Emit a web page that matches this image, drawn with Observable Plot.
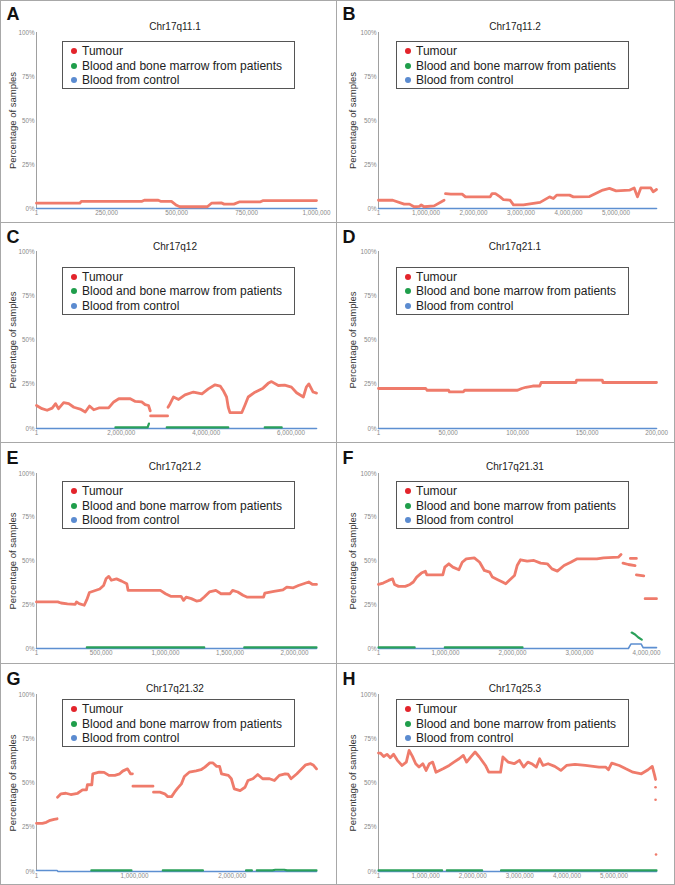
<!DOCTYPE html>
<html>
<head>
<meta charset="utf-8">
<script src="https://cdn.jsdelivr.net/npm/d3@7"></script>
<script src="https://cdn.jsdelivr.net/npm/@observablehq/plot@0.6"></script>
<style>
  body { margin: 0; background: #fff; font-family: "Liberation Sans", Arial, sans-serif; }
  #fig { position: relative; width: 675px; height: 885px; overflow: hidden; background: #fff; }
  .panel { position: absolute; }
  .panel svg { position: absolute; left: 0; top: 0; }
  .letter { position: absolute; font-weight: bold; font-size: 18px; line-height: 18px; color: #111; }
  .title { position: absolute; font-size: 10px; line-height: 12px; color: #222; transform: translate(-50%, -50%); white-space: nowrap; }
  .legend { position: absolute; border: 1px solid #555; background: #fff; box-sizing: border-box; width: 233px; height: 48px; font-size: 12px; color: #222; }
  .legend .row { position: absolute; left: 19px; white-space: nowrap; line-height: 14px; }
  .legend .dot { position: absolute; left: -11px; top: 4px; width: 6px; height: 6px; border-radius: 50%; }
  .gl { position: absolute; background: #a8a8a8; }
</style>
</head>
<body>
<div id="fig"></div>
<script>
// ---------- data (x in bp, y in % of samples; null = gap) ----------
const titles = ["Chr17q11.1","Chr17q11.2","Chr17q12","Chr17q21.1","Chr17q21.2","Chr17q21.31","Chr17q21.32","Chr17q25.3"];
const letters = ["A","B","C","D","E","F","G","H"];
const seriesNames = ["Tumour","Blood and bone marrow from patients","Blood from control"];
const yTicks = [0, 25, 50, 75, 100];

const xTicksA = [1, 250000, 500000, 750000, 1000000];
const xTicksB = [1, 1000000, 2000000, 3000000, 4000000, 5000000];
const xTicksC = [1, 2000000, 4000000, 6000000];
const xTicksD = [1, 50000, 100000, 150000, 200000];
const xTicksE = [1, 500000, 1000000, 1500000, 2000000];
const xTicksF = [1, 1000000, 2000000, 3000000, 4000000];
const xTicksG = [1, 1000000, 2000000];
const xTicksH = [1, 1000000, 2000000, 3000000, 4000000, 5000000];

const xMax = [1000000, 5850000, 6600000, 200000, 2170000, 4150000, 2860000, 5900000];

const tumourA = [[0,3],[155000,3],[160000,4],[375000,4],[385000,4.7],[435000,4.7],[445000,4],[482000,4],[500000,1.8],[512000,1],[610000,1],[625000,3],[660000,3.2],[670000,2.5],[705000,2.5],[726000,3.8],[800000,3.8],[810000,4.5],[1000000,4.5]];
const tumourB = [[0,4.7],[300000,4.7],[540000,2.5],[650000,2.5],[750000,1],[860000,1.2],[900000,2],[960000,1],[1170000,1.5],[1380000,4.7],[1390000,null],[1410000,8.5],[1520000,8.2],[1760000,8.2],[1830000,6.6],[2350000,6.6],[2390000,8.5],[2460000,8.5],[2560000,6.6],[2630000,5],[2770000,4.7],[2840000,2.1],[3050000,2.1],[3400000,3.5],[3600000,6.6],[3680000,5.7],[3750000,7.6],[4020000,7.6],[4100000,6.6],[4440000,6.8],[4720000,10.5],[4860000,11.4],[5000000,10],[5280000,10.4],[5380000,11.7],[5450000,6.6],[5520000,11.7],[5730000,11.7],[5780000,9.5],[5850000,10.8]];
const tumourC = [[0,13],[130000,11.2],[250000,10.3],[370000,11.5],[450000,14],[520000,11.2],[640000,14.6],[760000,14],[880000,12],[1030000,11],[1150000,9.3],[1250000,12.7],[1350000,10.6],[1470000,11.6],[1700000,11.6],[1820000,15],[1940000,16.8],[2210000,16.8],[2330000,15.3],[2480000,15],[2560000,13.5],[2640000,13],[2680000,10],[2685000,null],[2690000,7.1],[3090000,7.1],[3095000,null],[3100000,12],[3150000,14],[3230000,17.8],[3350000,16.4],[3500000,19],[3700000,20.6],[3900000,19.6],[4050000,22.4],[4210000,24.7],[4330000,24],[4400000,21.5],[4480000,17.8],[4520000,12],[4560000,9],[4840000,9],[4910000,13],[4990000,17.8],[5150000,20.5],[5340000,22.8],[5460000,25.5],[5540000,26.5],[5700000,24.3],[5850000,24.5],[6010000,23.4],[6130000,20.2],[6290000,17.8],[6360000,23.4],[6420000,25.2],[6520000,20.6],[6600000,20]];
const tumourD = [[0,22.6],[34000,22.6],[35000,21.6],[50500,21.6],[51000,20.7],[61000,20.7],[62000,21.6],[100000,21.6],[103000,22.6],[106000,23.3],[111000,24],[116000,24],[117000,26],[142000,26],[142500,27.3],[161000,27.3],[161500,26],[200000,26]];
const tumourE = [[0,26.6],[165000,26.6],[190000,26],[240000,25.5],[300000,25.2],[310000,26.6],[330000,25.6],[370000,24.7],[390000,27.9],[410000,32],[450000,33],[490000,34],[520000,36],[540000,40],[560000,41.2],[580000,39],[620000,39.8],[660000,38.5],[700000,37],[710000,33.2],[960000,33.2],[1000000,31.3],[1040000,29.8],[1120000,29.8],[1140000,27.5],[1160000,29.4],[1200000,28.5],[1240000,27.1],[1270000,27.5],[1300000,29.4],[1340000,32.3],[1390000,33.2],[1430000,31.3],[1500000,31.3],[1520000,33.2],[1560000,32.3],[1600000,30.4],[1630000,29.4],[1760000,29.4],[1770000,31.7],[1840000,32.6],[1910000,33.5],[1940000,35.1],[1990000,34.7],[2030000,36],[2070000,37],[2110000,38],[2140000,36.6],[2170000,36.6]];
const tumourF = [[0,36.6],[70000,37.4],[150000,38.9],[210000,39.8],[240000,36.6],[300000,35.5],[400000,35.5],[470000,36.6],[520000,38],[570000,40.8],[640000,43.1],[700000,44.2],[720000,42.1],[960000,42.1],[990000,46.5],[1050000,48.4],[1110000,46.5],[1200000,45],[1250000,49.3],[1310000,51.2],[1430000,51.8],[1510000,49.3],[1580000,44.6],[1660000,43.6],[1700000,40.8],[1780000,39.3],[1850000,38],[1900000,37],[1950000,38.9],[2030000,41.7],[2070000,47.4],[2120000,50.7],[2220000,49.9],[2320000,50.3],[2420000,48.8],[2520000,48.4],[2590000,45.5],[2670000,44.2],[2770000,47.4],[2870000,49.3],[2960000,51.2],[3260000,51.2],[3360000,51.8],[3580000,52.2],[3620000,53.7],[3630000,null],[3650000,48.8],[3730000,48],[3830000,47.4],[3840000,null],[3850000,42.1],[3960000,41.5],[3970000,null],[3980000,28.5],[4150000,28.5],[4150001,null],[3760000,51.5],[3850000,51.5]];
const tumourG = [[0,27.2],[60000,27.2],[100000,27.8],[130000,28.7],[180000,29.5],[210000,29.8],[212000,null],[215000,42],[250000,43.9],[300000,44.2],[350000,43.5],[420000,44.2],[470000,46.1],[510000,46.1],[520000,49],[565000,49],[575000,55.2],[640000,56.1],[690000,56],[740000,54.3],[800000,54.3],[850000,55.2],[880000,56.7],[930000,58],[960000,55.2],[980000,55.2],[982000,null],[985000,48.2],[1190000,48.2],[1191000,null],[1195000,44.8],[1260000,44.8],[1310000,43.9],[1340000,42.3],[1380000,42.3],[1410000,44.8],[1440000,47],[1480000,49.5],[1510000,53.7],[1560000,56.1],[1630000,56.8],[1680000,57.5],[1720000,59],[1770000,61.4],[1800000,61.4],[1840000,59.4],[1870000,59.4],[1890000,55.2],[1960000,54.3],[1990000,52.4],[2020000,46.7],[2080000,45.7],[2130000,47.6],[2160000,51.4],[2210000,52.4],[2260000,54.8],[2310000,52.4],[2380000,52.4],[2430000,51.4],[2480000,54.3],[2540000,55.2],[2570000,55],[2600000,52.4],[2660000,55.2],[2710000,58],[2750000,60.3],[2800000,60.9],[2830000,60],[2860000,58]];
const tumourH = [[0,66.9],[40000,66.9],[110000,65],[180000,66.2],[250000,64.3],[320000,66.2],[400000,62.8],[500000,59.9],[590000,61.8],[650000,68.4],[720000,65],[790000,60.9],[860000,59],[940000,60.9],[1010000,57.1],[1080000,60.9],[1150000,61.8],[1220000,56.1],[1370000,58],[1500000,59.9],[1600000,61.8],[1710000,63.7],[1800000,65.6],[1870000,61.8],[1960000,64.7],[2050000,67.5],[2140000,64.7],[2270000,59.9],[2340000,56.1],[2590000,56.1],[2640000,64.7],[2750000,61.8],[2880000,60.9],[2990000,62.8],[3080000,59],[3170000,61.8],[3250000,60.9],[3350000,59],[3420000,63.7],[3490000,59.9],[3600000,60.9],[3740000,59.4],[3870000,57.1],[3990000,59.9],[4170000,60.5],[4390000,59.9],[4680000,59],[4820000,59],[4880000,57.5],[4950000,61.2],[5110000,59.9],[5250000,58],[5400000,56.1],[5580000,55.2],[5720000,57.5],[5810000,59.4],[5860000,54.3],[5880000,52]];
const tumourPointsH = [[5880000,47.6],[5880000,40.5],[5890000,9.6]];

const greenA = [];
const greenB = [];
const greenC = [[1860000,0.6],[2620000,0.6],[2650000,2.8],[2660000,null],[3070000,0.6],[4520000,0.6],[4530000,null],[5380000,0.6],[5780000,0.6]];
const greenD = [];
const greenE = [[390000,0.6],[1300000,0.6],[1310000,null],[1610000,0.6],[2170000,0.6]];
const greenF = [[0,0.6],[540000,0.6],[550000,null],[990000,0.6],[2150000,0.6],[2160000,null],[3780000,9.1],[3830000,8],[3880000,6.3],[3930000,5.1]];
const greenG = [[560000,0.6],[970000,0.6],[980000,null],[1290000,0.6],[1700000,0.6],[1710000,null],[2140000,0.6],[2200000,0.6],[2210000,null],[2250000,0.6],[2410000,0.6],[2440000,1],[2530000,1],[2560000,0.6],[2860000,0.6]];
const greenH = [[0,0.6],[1350000,0.6],[1360000,null],[1450000,0.6],[2200000,0.6],[2210000,null],[2600000,0.6],[5900000,0.6]];

const blueA = [[0,0],[1000000,0]];
const blueB = [[0,0],[5850000,0]];
const blueC = [[0,0],[6600000,0]];
const blueD = [[0,0],[200000,0]];
const blueE = [[0,0],[2170000,0]];
const blueF = [[0,0],[3730000,0],[3770000,2.6],[3920000,2.6],[3950000,0.5],[4150000,0.5]];
const blueG = [[0,0.6],[210000,0.6],[220000,0],[2860000,0]];
const blueH = [[0,0],[5900000,0]];

// ---------- build ----------
const colors = { tumour: "#ef7b6b", green: "#2aa05a", blue: "#5d8fd1" };
const legendColors = ["#e3242b", "#1f9e4b", "#5b8bd0"];

const xTicks = [xTicksA, xTicksB, xTicksC, xTicksD, xTicksE, xTicksF, xTicksG, xTicksH];
const tumours = [tumourA, tumourB, tumourC, tumourD, tumourE, tumourF, tumourG, tumourH];
const greens = [greenA, greenB, greenC, greenD, greenE, greenF, greenG, greenH];
const blues = [blueA, blueB, blueC, blueD, blueE, blueF, blueG, blueH];
const extraPoints = [[], [], [], [], [], [], [], tumourPointsH];

const colLeft = [0, 336], colWidth = [336, 339];
const rowTop = [0, 222, 442, 663], rowH = [222, 220, 221, 222];
const y100 = [32, 29, 31, 31], y0 = [208, 206, 206, 208];
const letterCapTop = [7.5, 8, 9.7, 9.7];
const titleY = [27, 25, 24.7, 26.3];
const legendTop = [41, 44.5, 39, 36];
const mLeft = [36, 42], mRight = [20, 19];
const titleX = [175, 179], legendLeft = [62, 60], ylabDx = [-24, -26];

const toRows = pairs => pairs.map(([x, y]) => ({x, y}));
const fmt = d3.format(",");
const fig = document.getElementById("fig");

titles.forEach((title, i) => {
  const col = i % 2, row = Math.floor(i / 2);
  const w = colWidth[col], h = rowH[row];
  const panel = document.createElement("div");
  panel.className = "panel";
  panel.style.left = colLeft[col] + "px";
  panel.style.top = rowTop[row] + "px";
  panel.style.width = w + "px";
  panel.style.height = h + "px";

  const svg = Plot.plot({
    width: w, height: h,
    marginLeft: mLeft[col], marginRight: mRight[col],
    marginTop: y100[row], marginBottom: h - y0[row],
    style: { fontFamily: "'Liberation Sans', Arial, sans-serif", background: "transparent", overflow: "visible" },
    x: { domain: [0, xMax[i]], axis: null },
    y: { domain: [0, 100], axis: null },
    marks: [
      Plot.ruleX([0], { y1: 0, y2: 100, stroke: "#a0a0a0", strokeWidth: 1 }),
      Plot.axisY({ ticks: yTicks, tickFormat: d => d + "%", tickSize: 0, tickPadding: 2, fontSize: 6.3, color: "#8a8a8a", label: null }),
      Plot.axisX({ ticks: xTicks[i], tickFormat: fmt, tickSize: 0, tickPadding: 2, fontSize: 6.3, color: "#8a8a8a", label: null }),
      Plot.text(["Percentage of samples"], { frameAnchor: "left", textAnchor: "middle", rotate: -90, dx: ylabDx[col], fontSize: 9.5, fill: "#333" }),
      Plot.line(toRows(blues[i]), { x: "x", y: "y", stroke: colors.blue, strokeWidth: 1.6 }),
      Plot.line(toRows(greens[i]), { x: "x", y: "y", stroke: colors.green, strokeWidth: 2.2 }),
      Plot.line(toRows(tumours[i]), { x: "x", y: "y", stroke: colors.tumour, strokeWidth: 2.8 }),
      Plot.dot(toRows(extraPoints[i]), { x: "x", y: "y", r: 1.3, fill: colors.tumour })
    ]
  });
  panel.appendChild(svg);

  const letter = document.createElement("div");
  letter.className = "letter";
  letter.textContent = letters[i];
  letter.style.left = "6.5px";
  letter.style.top = (letterCapTop[row] - 2.3) + "px";
  panel.appendChild(letter);

  const t = document.createElement("div");
  t.className = "title";
  t.textContent = title;
  t.style.left = titleX[col] + "px";
  t.style.top = titleY[row] + "px";
  panel.appendChild(t);

  const lg = document.createElement("div");
  lg.className = "legend";
  lg.style.left = legendLeft[col] + "px";
  lg.style.top = legendTop[row] + "px";
  seriesNames.forEach((name, k) => {
    const r = document.createElement("div");
    r.className = "row";
    r.style.top = (2 + k * 14.5) + "px";
    const d = document.createElement("span");
    d.className = "dot";
    d.style.background = legendColors[k];
    r.appendChild(d);
    r.appendChild(document.createTextNode(name));
    lg.appendChild(r);
  });
  panel.appendChild(lg);

  fig.appendChild(panel);
});

// panel grid lines
const lines = [
  {l:0, t:0, w:675, h:1}, {l:0, t:884, w:675, h:1}, {l:0, t:0, w:1, h:885}, {l:674, t:0, w:1, h:885},
  {l:336, t:0, w:1, h:885}, {l:0, t:222, w:675, h:1}, {l:0, t:442, w:675, h:1}, {l:0, t:663, w:675, h:1}
];
lines.forEach(s => {
  const g = document.createElement("div");
  g.className = "gl";
  g.style.left = s.l + "px"; g.style.top = s.t + "px";
  g.style.width = s.w + "px"; g.style.height = s.h + "px";
  fig.appendChild(g);
});
</script>
</body>
</html>
